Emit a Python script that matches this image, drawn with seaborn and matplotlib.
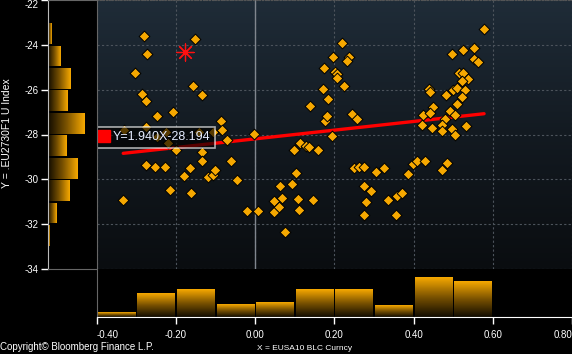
import numpy as np
import matplotlib
matplotlib.use('Agg')
from matplotlib import pyplot as plt
from matplotlib.colors import LinearSegmentedColormap
from matplotlib.lines import Line2D
import seaborn as sns

# scatter points
x_vals = [-0.280, -0.151, -0.273, -0.303, -0.156, -0.285, -0.275, -0.134, -0.207, -0.247,
          -0.086, -0.276, -0.330, -0.083, -0.225, -0.141, -0.107, -0.003, -0.247, -0.072,
          -0.220, -0.201, -0.134, -0.134, -0.275, -0.254, -0.227, -0.164, -0.179, -0.119,
          -0.107, -0.101, -0.061, -0.045, -0.215, -0.161, -0.333,
          -0.020, 0.008, 0.048, 0.048, 0.059, 0.068, 0.063, 0.093, 0.103, 0.109,
          0.111, 0.076, 0.146, 0.099, 0.113, 0.129, 0.137, 0.159, 0.194, 0.177,
          0.182, 0.138, 0.184, 0.171, 0.174, 0.197, 0.201, 0.207, 0.207, 0.219,
          0.237, 0.233, 0.224, 0.244, 0.257,
          0.250, 0.262, 0.275, 0.305, 0.325, 0.275, 0.293, 0.280, 0.275, 0.335,
          0.358, 0.371, 0.356, 0.386, 0.398, 0.409, 0.429, 0.484, 0.472,
          0.578, 0.497, 0.525, 0.552, 0.553, 0.562, 0.514, 0.525, 0.537, 0.523,
          0.439, 0.441, 0.481, 0.499, 0.509, 0.529, 0.522, 0.509, 0.449, 0.491,
          0.424, 0.442, 0.504, 0.479, 0.421, 0.447, 0.471, 0.497, 0.532, 0.504, 0.472]
y_vals = [-23.61, -23.75, -24.41, -25.26, -25.84, -26.20, -26.52, -26.25, -27.01, -27.18,
          -27.40, -27.67, -27.80, -27.80, -27.89, -27.91, -27.91, -27.96, -28.10, -28.23,
          -28.36, -28.70, -28.77, -29.20, -29.37, -29.46, -29.46, -29.51, -29.87, -29.91,
          -29.82, -29.60, -29.20, -30.04, -30.49, -30.63, -30.94,
          -31.43, -31.43, -31.44, -30.98, -31.25, -30.85, -30.28, -30.22, -29.73, -30.89,
          -31.38, -32.37, -30.94, -28.67, -28.38, -28.52, -28.56, -28.71, -28.07, -27.41,
          -27.17, -26.75, -26.43, -25.98, -25.05, -24.56, -25.19, -25.29, -25.50, -23.93,
          -24.56, -24.71, -25.85, -27.09, -27.33,
          -29.49, -29.46, -29.46, -29.69, -29.51, -30.28, -30.54, -30.99, -31.57, -30.94,
          -30.76, -30.62, -31.57, -29.74, -29.31, -29.20, -29.20, -29.29, -29.60,
          -23.31, -24.42, -24.25, -24.16, -24.62, -24.78, -25.26, -25.27, -25.54, -25.63,
          -25.98, -26.12, -26.25, -26.02, -25.94, -26.02, -26.34, -26.66, -26.79, -26.94,
          -27.15, -27.02, -27.12, -27.29, -27.59, -27.71, -27.57, -27.75, -27.64, -28.00, -27.86]

# latest point (red star)
last_x = [-0.177]
last_y = [-24.33]

# regression from the legend
slope = 1.940
intercept = -28.194

# marginal histograms (share of points, %)
x_edges = [-0.4, -0.3, -0.2, -0.1, 0.0, 0.1, 0.2, 0.3, 0.4, 0.5, 0.6]
x_hist = [2.07, 10.49, 12.26, 5.61, 6.50, 12.26, 12.26, 5.17, 17.58, 15.81]
y_edges = [-33, -32, -31, -30, -29, -28, -27, -26, -25, -24, -23]
y_hist = [0.59, 4.71, 12.35, 17.06, 10.59, 21.37, 11.18, 12.94, 7.06, 2.16]

x_ticks = [-0.4, -0.2, 0.0, 0.2, 0.4, 0.6, 0.8]
y_ticks = [-34, -32, -30, -28, -26, -24, -22]

ORANGE = '#f6a800'
FONT = ['Liberation Sans', 'DejaVu Sans']


def gradient_bars(axe, horizontal):
    cmap = LinearSegmentedColormap.from_list('bar', ['#120c00', '#7a5200', ORANGE])
    for p in list(axe.patches):
        x0, y0 = p.get_x(), p.get_y()
        x1, y1 = x0 + p.get_width(), y0 + p.get_height()
        if horizontal:
            grad = np.linspace(0, 1, 64).reshape(1, -1)
        else:
            grad = np.linspace(0, 1, 64).reshape(-1, 1)
        p.set_facecolor('none')
        p.set_edgecolor('none')
        im = axe.imshow(grad, extent=[x0, x1, y0, y1], origin='lower', cmap=cmap,
                        aspect='auto', zorder=2, interpolation='bilinear')
        im.set_clip_path(p)


def main():
    sns.set_style('dark')
    plt.rcParams['font.family'] = FONT
    plt.rcParams['axes.unicode_minus'] = False

    fig = plt.figure(figsize=(5.72, 3.54), dpi=100)
    fig.patch.set_facecolor('black')

    ax = fig.add_axes([96.7 / 572, 85 / 354, 475.3 / 572, 269 / 354])
    ax_l = fig.add_axes([48 / 572, 85 / 354, 48.7 / 572, 269 / 354])
    ax_b = fig.add_axes([96.7 / 572, 37 / 354, 475.3 / 572, 48 / 354])

    # main panel background gradient
    bg = LinearSegmentedColormap.from_list('bg', ['#0a0d10', '#131a21', '#1f2c38'])
    ax.imshow(np.linspace(0, 1, 256).reshape(-1, 1), extent=[-0.4, 0.8, -34, -22],
              origin='lower', cmap=bg, aspect='auto', zorder=0)
    ax.set_xlim(-0.4, 0.8)
    ax.set_ylim(-34, -22)
    ax.set_xticks(x_ticks)
    ax.set_yticks(y_ticks)
    ax.grid(True, color='#4c535b', linestyle=(0, (2, 2)), linewidth=0.8)
    ax.set_axisbelow(True)
    ax.axvline(0, color='#80868e', linewidth=1, zorder=1)
    ax.tick_params(length=0, labelbottom=False, labelleft=False)
    for s in ax.spines.values():
        s.set_visible(False)
    ax.spines['top'].set_visible(True)
    ax.spines['top'].set_color('#555555')
    ax.spines['top'].set_linestyle(':')

    fit_x = np.array([min(x_vals), max(x_vals)])
    sns.lineplot(x=fit_x, y=slope * fit_x + intercept, color='#ff0000', linewidth=2.4,
                 ax=ax, zorder=3)
    sns.scatterplot(x=x_vals, y=y_vals, marker='D', s=30, color=ORANGE,
                    edgecolor='black', linewidth=0.7, ax=ax, zorder=4)
    sns.scatterplot(x=last_x, y=last_y, marker=(8, 2, 0), s=150, color='#ff1010',
                    edgecolor='#ff1010', linewidth=0.9, ax=ax, zorder=5)
    ax.set_xlabel('')
    ax.set_ylabel('')

    handle = Line2D([], [], marker='s', color='#ff0000', linestyle='none', markersize=8)
    leg = ax.legend(handles=[handle], labels=['Y=%.3fX%+.3f' % (slope, intercept)],
                    loc='upper left', bbox_to_anchor=(-0.002, 1 - 127 / 269), borderaxespad=0,
                    frameon=True, fancybox=False, facecolor='black', edgecolor='white',
                    framealpha=0.65, fontsize=9, handlelength=0.7, handletextpad=0.3,
                    borderpad=0.35, labelcolor='#e6ecff')
    leg.get_frame().set_linewidth(1.2)
    leg.set_zorder(6)

    # bottom histogram
    centers = [(a + b) / 2 for a, b in zip(x_edges[:-1], x_edges[1:])]
    sns.histplot(x=centers, weights=x_hist, bins=x_edges, shrink=0.95, ax=ax_b)
    gradient_bars(ax_b, horizontal=False)
    ax_b.set_facecolor('black')
    ax_b.set_xlim(-0.4, 0.8)
    ax_b.set_ylim(0, 21.2)
    ax_b.set_xticks(x_ticks)
    ax_b.set_xticklabels(['%.2f' % v for v in x_ticks])
    ax_b.set_yticks([])
    ax_b.set_xlabel('')
    ax_b.set_ylabel('')
    ax_b.tick_params(axis='x', colors='white', length=5, width=1, labelsize=7, pad=4,
                     direction='out', bottom=True)
    labs = ax_b.get_xticklabels()
    labs[0].set_ha('left')
    labs[-1].set_ha('right')
    for k in ['top', 'right']:
        ax_b.spines[k].set_visible(False)
    ax_b.spines['left'].set_color('#666666')
    ax_b.spines['bottom'].set_color('white')

    # left histogram
    ycent = [(a + b) / 2 for a, b in zip(y_edges[:-1], y_edges[1:])]
    sns.histplot(y=ycent, weights=y_hist, bins=y_edges, shrink=0.93, ax=ax_l)
    gradient_bars(ax_l, horizontal=True)
    ax_l.set_facecolor('black')
    ax_l.set_ylim(-34, -22)
    ax_l.set_xlim(0, 28.5)
    ax_l.set_yticks(y_ticks)
    ax_l.set_yticklabels(['%d' % v for v in y_ticks])
    ax_l.set_xticks([])
    ax_l.set_xlabel('')
    ax_l.set_ylabel('')
    ax_l.tick_params(axis='y', colors='white', length=5, width=1, labelsize=7, pad=2,
                     direction='out', left=True)
    ax_l.get_yticklabels()[-1].set_va('top')
    for s in ax_l.spines.values():
        s.set_color('#666666')
    ax_l.spines['left'].set_color('#bbbbbb')

    fig.text(0.0, 7 / 354, 'Copyright\u00a9 Bloomberg Finance L.P.', color='white',
             fontsize=7, ha='left', va='center')
    fig.text(305 / 572, 5 / 354, 'X = EUSA10 BLC Curncy', color='white',
             fontsize=6, ha='center', va='center')
    fig.text(7 / 572, 221 / 354, 'Y = .EU2730F1 U Index', color='white',
             fontsize=7.5, ha='center', va='center', rotation=90)

    plt.savefig('out.png', dpi=100, facecolor='black')


if __name__ == '__main__':
    main()
